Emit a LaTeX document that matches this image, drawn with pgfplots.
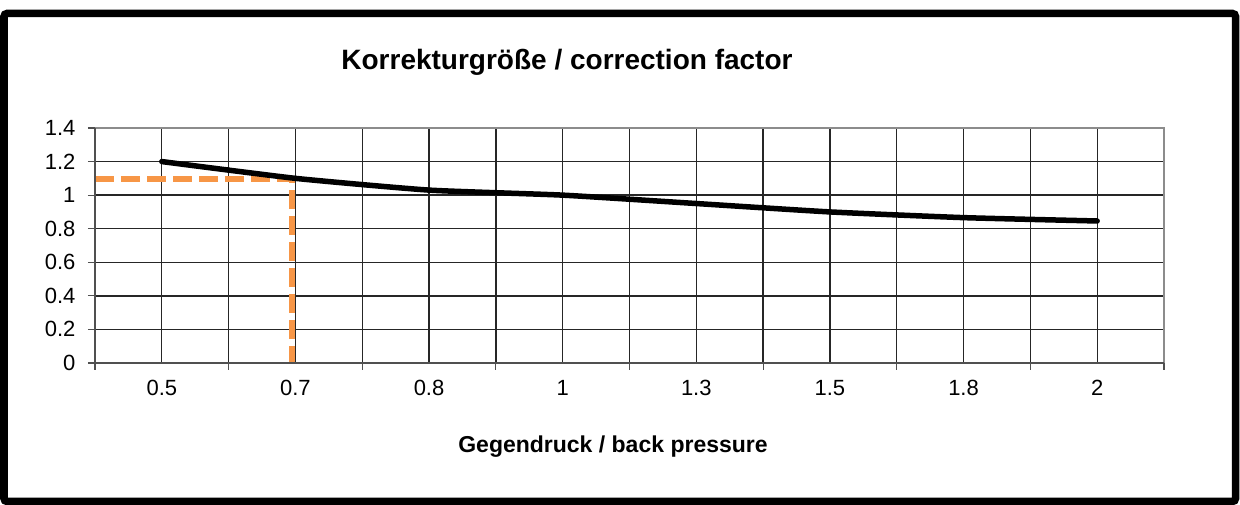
\documentclass[border=0pt]{standalone}
\usepackage{pgfplots}
\pgfplotsset{compat=1.18}
\usepackage{fontspec}
\setmainfont{Liberation Sans}
\definecolor{xlorange}{RGB}{247,150,70}
\definecolor{axdark}{RGB}{80,80,80}
\definecolor{axlight}{RGB}{140,140,140}
\begin{document}
\begin{tikzpicture}
\useasboundingbox (0pt,0pt) rectangle (1240pt,505pt);
\draw[line width=7.5pt, rounded corners=3pt] (4pt,3.5pt) rectangle (1235.5pt,491.5pt);
\node[anchor=base, font=\bfseries\fontsize{28}{30}\selectfont] at (567pt,435pt) {Korrekturgröße / correction factor};
\node[anchor=base, font=\bfseries\fontsize{23}{25}\selectfont] at (613pt,52pt) {Gegendruck / back pressure};
\begin{axis}[
  at={(95pt,142pt)}, anchor=south west,
  width=1069pt, height=235pt, scale only axis,
  xmin=-0.5, xmax=7.5, ymin=0, ymax=1.4,
  axis line style={draw=none},
  tick align=outside,
  xtick pos=lower, ytick pos=left,
  major tick length=7pt,
  tick style={axdark, line width=1.2pt},
  xtick={-0.5,0.5,...,7.5},
  xticklabels={},
  extra x ticks={0,1,2,3,4,5,6,7},
  extra x tick labels={0.5,0.7,0.8,1,1.3,1.5,1.8,2},
  extra x tick style={major tick length=0pt, grid=major},
  ytick={0,0.2,0.4,0.6,0.8,1,1.2,1.4},
  yticklabels={0,0.2,0.4,0.6,0.8,1,1.2,1.4},
  grid=major,
  major grid style={black!85, line width=1.3pt},
  tick label style={font=\fontsize{22}{24}\selectfont},
  xticklabel style={yshift=-14pt},
  yticklabel style={xshift=-9pt},
  /pgf/number format/assume math mode=true,
  clip=false,
]
\addplot[color=xlorange, line width=6pt, dash pattern=on 19pt off 7pt] coordinates {(-0.5,1.095) (0.975,1.095) (0.975,0)};
\addplot[black, line width=5.5pt, line cap=round, line join=round, smooth, tension=0.3] coordinates {
(0,1.2) (1,1.1) (2,1.03) (3,1.0) (4,0.95) (5,0.9) (6,0.866) (7,0.846)};
\draw[line width=2.5pt, axlight] (rel axis cs:0,1) -- (rel axis cs:1,1) -- (rel axis cs:1,0);
\draw[line width=2.2pt, axdark] (rel axis cs:0,1) -- (rel axis cs:0,0) -- (rel axis cs:1,0);
\end{axis}
\end{tikzpicture}
\end{document}
